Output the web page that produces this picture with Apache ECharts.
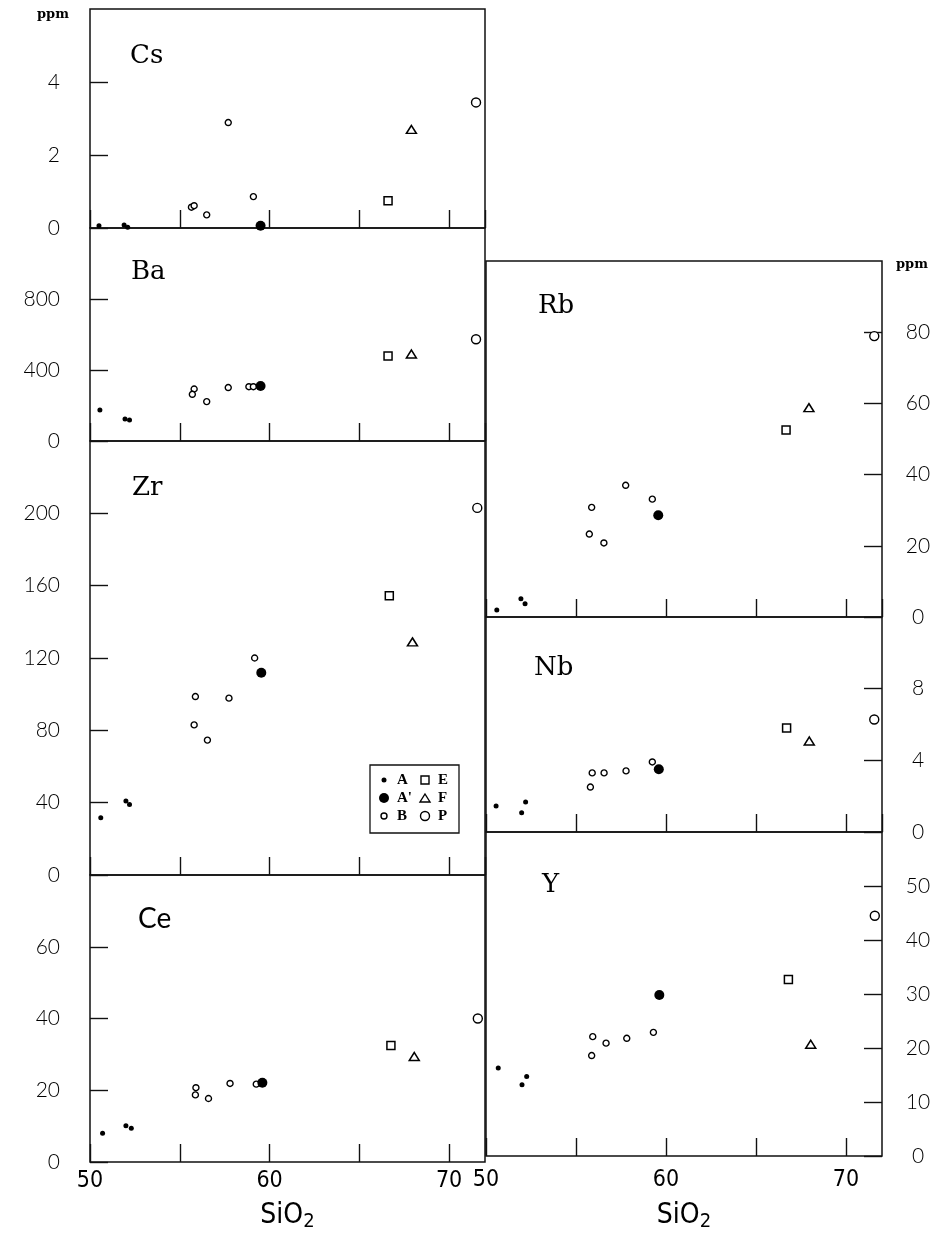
<!DOCTYPE html>
<html>
<head>
<meta charset="utf-8">
<script src="https://cdn.jsdelivr.net/npm/echarts@6/dist/echarts.min.js"></script>
<style>
  html, body { margin: 0; padding: 0; background: #fff; }
  #chart { width: 941px; height: 1238px; }
</style>
</head>
<body>
<div id="chart"></div>
<script>
// Sample groups (rock suites) and the SiO2 (wt%) tick labels shown on the bottom axes
const groups = ['B', 'P', 'E', 'F', 'A', "A'"];
const siLabels = [50, 60, 70];

// Trace-element contents (ppm) against SiO2 — each entry: [group, SiO2, ppm]
const cs = [
  ['A', 50.5, 0.06], ['A', 51.9, 0.08], ['A', 52.1, 0.02],
  ['B', 55.65, 0.57], ['B', 55.8, 0.61], ['B', 56.5, 0.36], ['B', 57.7, 2.89], ['B', 59.1, 0.86],
  ["A'", 59.5, 0.06],
  ['E', 66.6, 0.75], ['F', 67.9, 2.70], ['P', 71.5, 3.44]
];
const ba = [
  ['A', 50.55, 175], ['A', 51.95, 124], ['A', 52.2, 118],
  ['B', 55.8, 293], ['B', 55.7, 263], ['B', 56.5, 222], ['B', 57.7, 301], ['B', 58.85, 306], ['B', 59.1, 306],
  ["A'", 59.5, 310],
  ['E', 66.6, 479], ['F', 67.9, 490], ['P', 71.5, 573]
];
const zr = [
  ['A', 50.6, 31.7], ['A', 52.0, 40.9], ['A', 52.2, 39.0],
  ['B', 55.87, 98.7], ['B', 55.8, 83.0], ['B', 56.54, 74.6], ['B', 57.74, 97.8], ['B', 59.17, 120],
  ["A'", 59.54, 111.8],
  ['E', 66.67, 154.4], ['F', 67.96, 128.9], ['P', 71.57, 203]
];
const ce = [
  ['A', 50.7, 8.0], ['A', 52.0, 10.1], ['A', 52.3, 9.4],
  ['B', 55.9, 20.7], ['B', 55.87, 18.7], ['B', 56.6, 17.7], ['B', 57.8, 21.9], ['B', 59.26, 21.7],
  ["A'", 59.6, 22.1],
  ['E', 66.76, 32.5], ['F', 68.06, 29.4], ['P', 71.6, 40.0]
];
const rb = [
  ['A', 50.6, 2.0], ['A', 51.94, 5.1], ['A', 52.17, 3.7],
  ['B', 55.87, 30.8], ['B', 55.74, 23.3], ['B', 56.55, 20.8], ['B', 57.76, 37.0], ['B', 59.24, 33.1],
  ["A'", 59.57, 28.6],
  ['E', 66.67, 52.5], ['F', 67.94, 58.8], ['P', 71.57, 78.9]
];
const nb = [
  ['A', 50.56, 1.45], ['A', 51.98, 1.08], ['A', 52.2, 1.68],
  ['B', 55.9, 3.30], ['B', 55.8, 2.51], ['B', 56.56, 3.30], ['B', 57.78, 3.41], ['B', 59.24, 3.91],
  ["A'", 59.6, 3.50],
  ['E', 66.7, 5.81], ['F', 67.96, 5.08], ['P', 71.57, 6.28]
];
const yy = [
  ['A', 50.68, 16.3], ['A', 52.0, 13.2], ['A', 52.26, 14.7],
  ['B', 55.93, 22.1], ['B', 55.87, 18.6], ['B', 56.67, 20.9], ['B', 57.82, 21.8], ['B', 59.3, 22.9],
  ["A'", 59.63, 29.8],
  ['E', 66.8, 32.7], ['F', 68.04, 20.7], ['P', 71.6, 44.5]
];

// Panel layout: element, data, y range/step, grid box [left, top, width, height], axis side
const panels = [
  { el: 'Cs', data: cs, max: 6,    step: 2,   box: [90, 9, 395, 219],   side: 'left',  bottom: false, tx: 130, ty: 58,  font: 'serif' },
  { el: 'Ba', data: ba, max: 1200, step: 400, box: [90, 228, 395, 213], side: 'left',  bottom: false, tx: 131, ty: 274, font: 'serif' },
  { el: 'Zr', data: zr, max: 240,  step: 40,  box: [90, 441, 395, 434], side: 'left',  bottom: false, tx: 132, ty: 490, font: 'serif' },
  { el: 'Ce', data: ce, max: 80,   step: 20,  box: [90, 875, 395, 287], side: 'left',  bottom: true,  tx: 138, ty: 920, font: 'sans' },
  { el: 'Rb', data: rb, max: 100,  step: 20,  box: [486, 261, 396, 356], side: 'right', bottom: false, tx: 538, ty: 308, font: 'serif' },
  { el: 'Nb', data: nb, max: 12,   step: 4,   box: [486, 617, 396, 215], side: 'right', bottom: false, tx: 534, ty: 670, font: 'serif' },
  { el: 'Y',  data: yy, max: 60,   step: 10,  box: [486, 832, 396, 324], side: 'right', bottom: true,  tx: 542, ty: 887, font: 'serif' }
];

const INK = '#000';
const tickFont = "'Lato', 'DejaVu Sans', sans-serif";
const narrowFont = "'DejaVu Sans Condensed', 'Liberation Sans Narrow', 'DejaVu Sans', sans-serif";
const serifFont = "'DejaVu Serif', 'Liberation Serif', serif";

const markStyle = {
  'A':  { symbol: 'circle',   symbolSize: 5,      itemStyle: { color: INK, opacity: 1 } },
  "A'": { symbol: 'circle',   symbolSize: 10,     itemStyle: { color: INK, opacity: 1 } },
  'B':  { symbol: 'circle',   symbolSize: 6,      itemStyle: { color: '#fff', borderColor: INK, borderWidth: 1.4, opacity: 1 } },
  'E':  { symbol: 'rect',     symbolSize: 8,      itemStyle: { color: '#fff', borderColor: INK, borderWidth: 1.5, opacity: 1 } },
  'F':  { symbol: 'triangle', symbolSize: [10, 8], itemStyle: { color: '#fff', borderColor: INK, borderWidth: 1.5, opacity: 1 } },
  'P':  { symbol: 'circle',   symbolSize: 9,      itemStyle: { color: '#fff', borderColor: INK, borderWidth: 1.4, opacity: 1 } }
};

const grid = [], xAxis = [], yAxis = [], series = [], graphic = [];

panels.forEach((p, i) => {
  grid.push({
    left: p.box[0], top: p.box[1], width: p.box[2], height: p.box[3],
    show: true, borderColor: '#111', borderWidth: 1.5, backgroundColor: 'transparent',
    containLabel: false, outerBoundsMode: 'none'
  });
  xAxis.push({
    type: 'value', gridIndex: i, min: 50, max: 72, interval: 5,
    axisLine: { show: false, onZero: false },
    splitLine: { show: false },
    axisTick: { show: true, inside: true, length: 18, lineStyle: { color: '#111', width: 1.4 } },
    axisLabel: {
      show: p.bottom, color: INK, fontSize: 23, fontFamily: narrowFont,
      margin: p.side === 'left' ? 8 : 13,
      showMinLabel: true, showMaxLabel: false,
      formatter: v => (siLabels.indexOf(v) >= 0 ? String(v) : '')
    },
    name: p.bottom ? '{a|SiO}{b|2}' : '',
    nameLocation: 'middle',
    nameGap: p.side === 'left' ? 40 : 46,
    nameTextStyle: {
      color: INK,
      rich: {
        a: { fontSize: 28, fontFamily: narrowFont, color: INK, lineHeight: 30, verticalAlign: 'top' },
        b: { fontSize: 20, fontFamily: narrowFont, color: INK, lineHeight: 20, verticalAlign: 'bottom', padding: [14, 0, 0, 0] }
      }
    }
  });
  yAxis.push({
    type: 'value', gridIndex: i, min: 0, max: p.max, interval: p.step,
    position: p.side,
    axisLine: { show: false, onZero: false },
    splitLine: { show: false },
    axisTick: { show: true, inside: true, length: 18, lineStyle: { color: '#111', width: 1.4 } },
    axisLabel: {
      color: INK, fontSize: 21, fontFamily: tickFont, fontWeight: 300,
      showMaxLabel: false, showMinLabel: true,
      margin: p.side === 'left' ? 30 : 36,
      align: p.side === 'left' ? 'right' : 'center'
    }
  });
  groups.forEach(g => {
    series.push(Object.assign({
      type: 'scatter', name: g, xAxisIndex: i, yAxisIndex: i,
      data: p.data.filter(d => d[0] === g).map(d => [d[1], d[2]]),
      silent: true, animation: false, clip: false,
      z: (g === 'A' || g === "A'") ? 4 : 3
    }, markStyle[g]));
  });
  // element symbol inside each panel
  graphic.push({
    type: 'text', left: p.tx, top: p.ty - 15, z: 10,
    style: {
      text: p.el, fill: INK,
      font: p.font === 'serif' ? `26px ${serifFont}` : `28px ${tickFont}`
    }
  });
});

// "ppm" unit captions above the left and right value axes
graphic.push({ type: 'text', left: 37, top: 8, style: { text: 'ppm', fill: INK, font: `bold 13px ${serifFont}` } });
graphic.push({ type: 'text', left: 896, top: 258, style: { text: 'ppm', fill: INK, font: `bold 13px ${serifFont}` } });

// Symbol key for the six suites (drawn inside the Zr panel)
const keyFont = `bold 15px 'Liberation Serif', serif`;
const keyRows = [780, 798, 816];
const key = [
  { g: 'A',  col: 0, row: 0 }, { g: "A'", col: 0, row: 1 }, { g: 'B', col: 0, row: 2 },
  { g: 'E',  col: 1, row: 0 }, { g: 'F',  col: 1, row: 1 }, { g: 'P', col: 1, row: 2 }
];
const keyChildren = [{
  type: 'rect', shape: { x: 370, y: 765, width: 89, height: 68 },
  style: { fill: '#fff', stroke: '#111', lineWidth: 1.3 }
}];
key.forEach(k => {
  const mx = k.col === 0 ? 384 : 425;
  const ty = keyRows[k.row];
  const st = markStyle[k.g];
  const filled = st.itemStyle.color !== '#fff';
  const sz = Array.isArray(st.symbolSize) ? st.symbolSize : [st.symbolSize, st.symbolSize];
  let shape;
  if (st.symbol === 'circle') {
    shape = { type: 'circle', shape: { cx: mx, cy: ty, r: sz[0] / 2 } };
  } else if (st.symbol === 'rect') {
    shape = { type: 'rect', shape: { x: mx - sz[0] / 2, y: ty - sz[1] / 2, width: sz[0], height: sz[1] } };
  } else {
    shape = { type: 'polygon', shape: { points: [[mx, ty - sz[1] / 2], [mx + sz[0] / 2, ty + sz[1] / 2], [mx - sz[0] / 2, ty + sz[1] / 2]] } };
  }
  shape.style = filled ? { fill: INK } : { fill: '#fff', stroke: INK, lineWidth: 1.4 };
  keyChildren.push(shape);
  keyChildren.push({
    type: 'text', x: mx + 13, y: ty,
    style: { text: k.g, fill: INK, font: keyFont, textVerticalAlign: 'middle', verticalAlign: 'middle' }
  });
});
graphic.push({ type: 'group', z: 20, children: keyChildren });

const chart = echarts.init(document.getElementById('chart'), null, { renderer: 'canvas' });
chart.setOption({
  backgroundColor: '#fff',
  animation: false,
  grid, xAxis, yAxis, series, graphic
});
</script>
</body>
</html>
